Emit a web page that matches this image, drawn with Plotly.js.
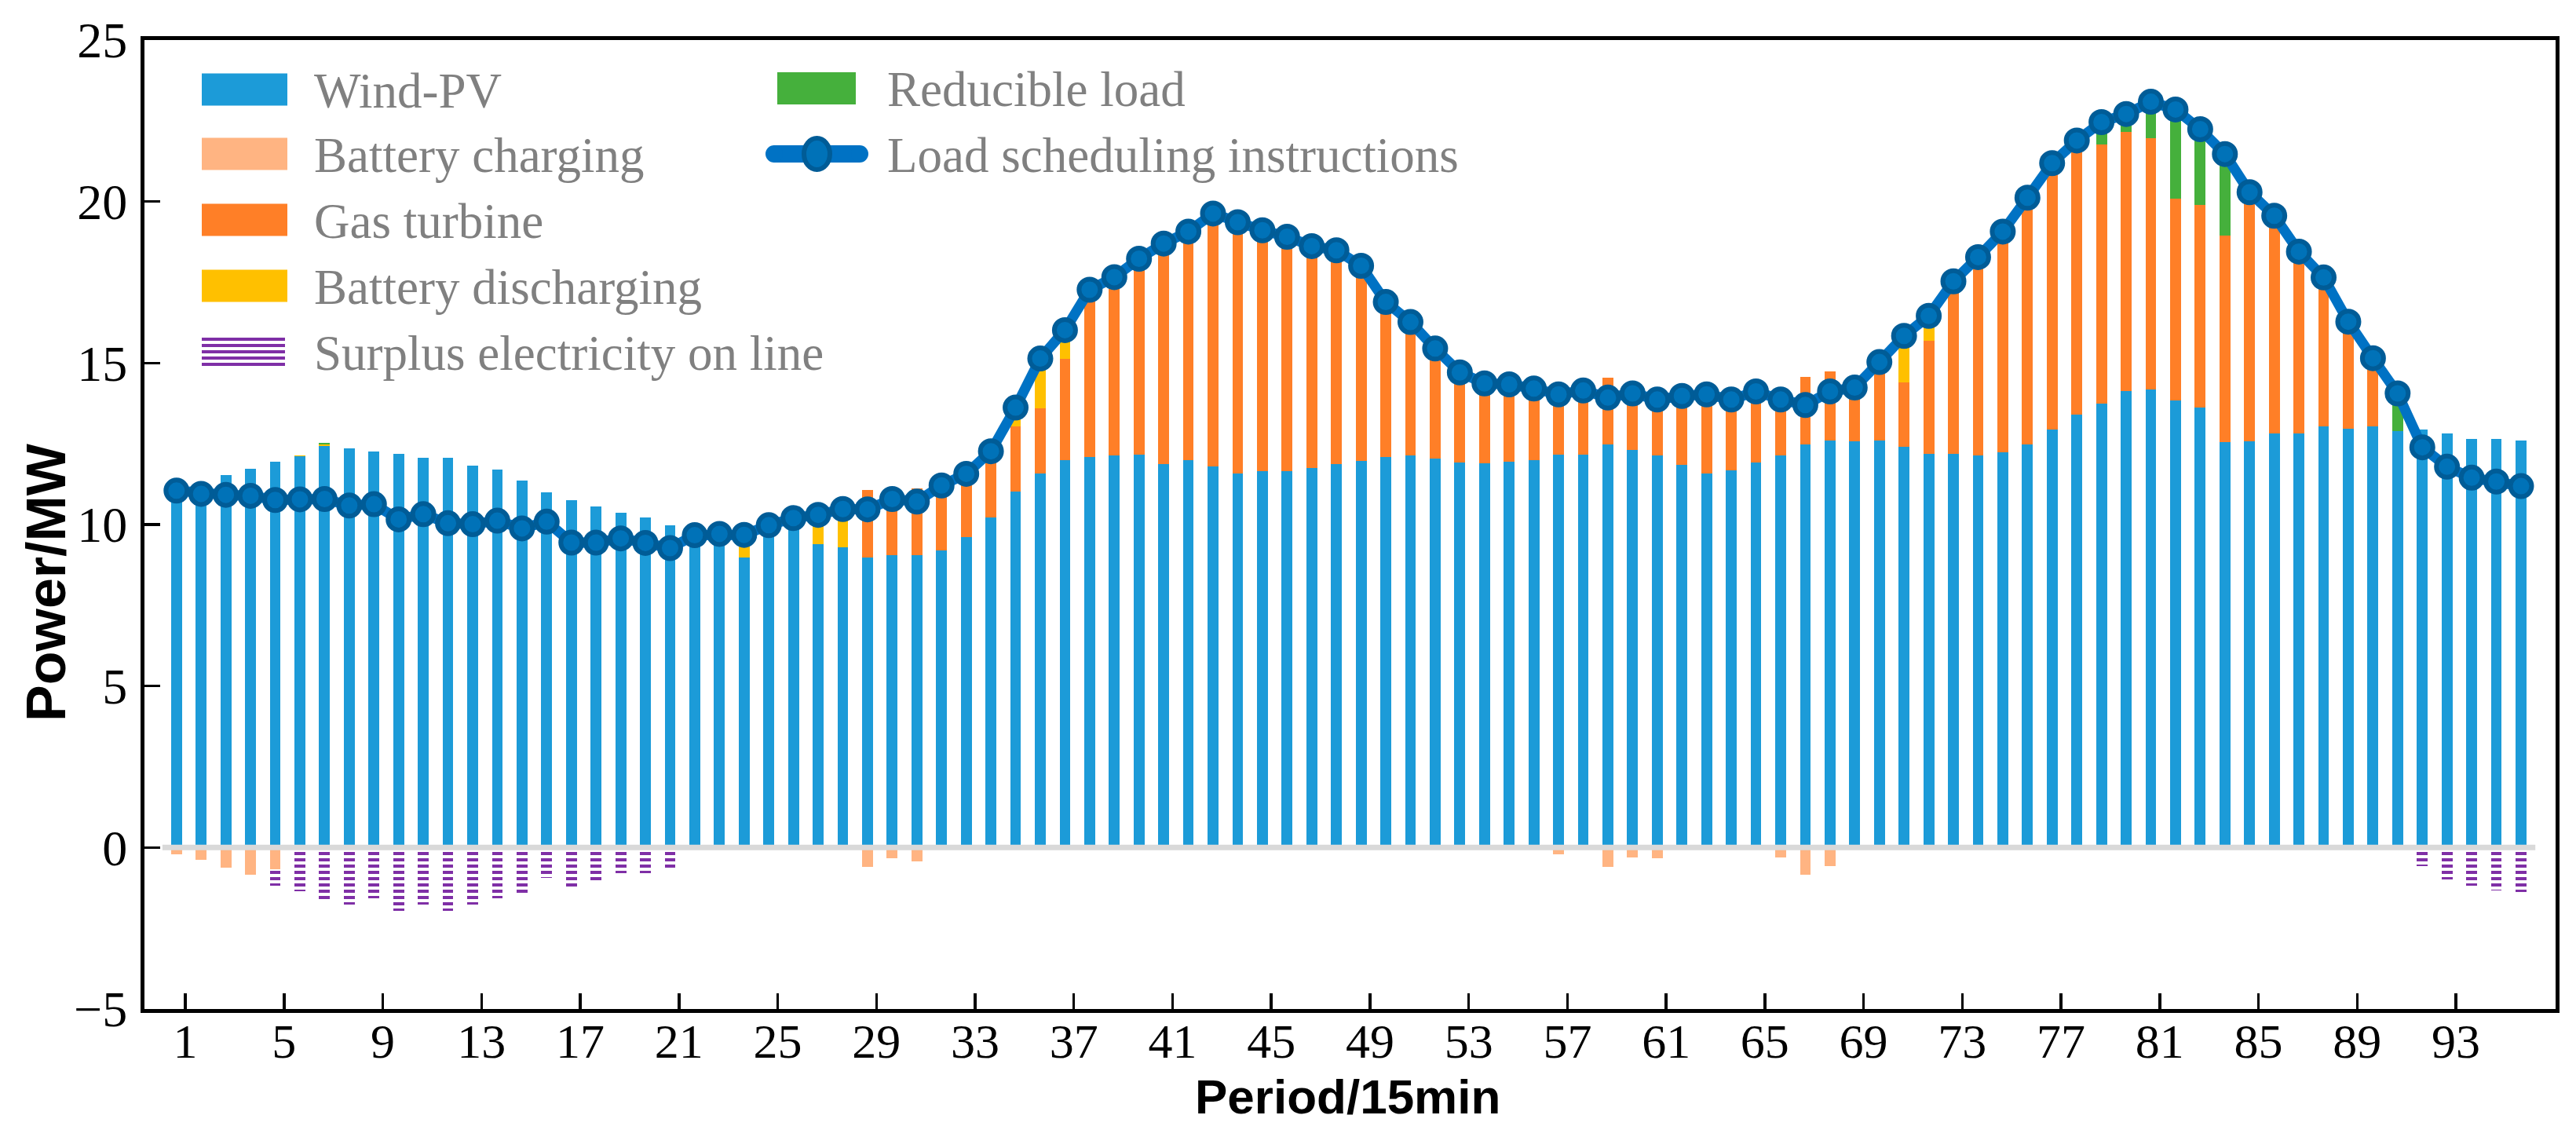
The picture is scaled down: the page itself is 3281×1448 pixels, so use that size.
<!DOCTYPE html>
<html>
<head>
<meta charset="utf-8">
<script src="https://cdn.plot.ly/plotly-3.0.1.min.js"></script>
<style>html,body{margin:0;padding:0;background:#fff;}#chart{width:3281px;height:1448px;}</style>
</head>
<body>
<div id="chart"></div>
<script>
// ---------------- data ----------------
var periods = [];
for (var i = 1; i <= 96; i++) periods.push(i);

var windPV = [11.25,11.32,11.54,11.73,11.95,12.11,12.43,12.37,12.27,12.19,12.07,12.07,11.82,11.69,11.36,11.00,10.76,10.57,10.37,10.22,9.98,9.79,9.71,8.98,9.98,10.20,9.39,9.30,8.99,9.04,9.05,9.21,9.61,10.23,11.01,11.57,11.99,12.10,12.13,12.16,11.86,11.99,11.79,11.58,11.66,11.66,11.74,11.86,11.96,12.08,12.14,12.04,11.93,11.89,11.95,11.99,12.16,12.16,12.47,12.30,12.15,11.84,11.57,11.68,11.93,12.15,12.47,12.61,12.57,12.61,12.40,12.20,12.18,12.15,12.23,12.49,12.93,13.41,13.75,14.13,14.18,13.84,13.62,12.56,12.58,12.82,12.83,13.04,12.97,13.05,12.90,12.94,12.83,12.65,12.65,12.59];

var gasTurbine = [0,0,0,0,0,0,0,0,0,0,0,0,0,0,0,0,0,0,0,0,0,0,0,0,0,0,0,0,2.07,2.09,2.08,2.00,1.96,2.04,2.03,2.02,3.15,5.17,5.53,6.07,6.84,7.08,7.84,7.78,7.45,7.25,6.88,6.63,6.05,4.81,4.13,3.41,2.78,2.48,2.39,2.22,2.09,1.99,2.07,2.07,2.06,2.14,2.46,2.19,2.19,2.03,2.10,2.12,1.67,2.42,2.01,3.49,5.35,6.13,6.84,7.63,8.26,8.48,8.02,8.02,7.77,6.26,6.28,6.38,7.71,6.74,5.62,4.61,3.31,2.10,0,0,0,0,0,0];

var batteryDischarging = [0,0,0,0,0,0.04,0.04,0,0,0,0,0,0,0,0,0,0,0,0,0,0,0,0,0.70,0,0,0.91,1.18,0,0,0,0,0,0,0.58,1.55,0.88,0,0,0,0,0,0,0,0,0,0,0,0,0,0,0,0,0,0,0,0,0,0,0,0,0,0,0,0,0,0,0,0,0,1.43,0.77,0,0,0,0,0,0,0,0,0,0,0,0,0,0,0,0,0,0,0,0,0,0,0,0];

var reducibleLoad = [0,0,0,0,0,0,0.05,0,0,0,0,0,0,0,0,0,0,0,0,0,0,0,0,0,0,0,0,0,0,0,0,0,0,0,0,0,0,0,0,0,0,0,0,0,0,0,0,0,0,0,0,0,0,0,0,0,0,0,0,0,0,0,0,0,0,0,0,0,0,0,0,0,0,0,0,0,0,0,0.69,0.56,1.14,2.75,2.34,2.53,0,0,0,0,0,0,1.16,0,0,0,0,0];

var batteryCharging = [-0.20,-0.37,-0.62,-0.84,-0.67,0,0,0,0,0,0,0,0,0,0,0,0,0,0,0,0,0,0,0,0,0,0,0,-0.59,-0.34,-0.42,0,0,0,0,0,0,0,0,0,0,0,0,0,0,0,0,0,0,0,0,0,0,0,0,0,-0.22,0,-0.61,-0.31,-0.34,0,0,0,0,-0.30,-0.84,-0.58,0,0,0,0,0,0,0,0,0,0,0,0,0,0,0,0,0,0,0,0,0,0,0,0,0,0,0,0];

var surplusOnLine = [0,0,0,0,-0.51,-1.36,-1.70,-1.76,-1.57,-1.97,-1.76,-1.97,-1.76,-1.57,-1.51,-0.93,-1.30,-1.10,-0.79,-0.79,-0.71,-0.12,0,0,0,0,0,0,0,0,0,0,0,0,0,0,0,0,0,0,0,0,0,0,0,0,0,0,0,0,0,0,0,0,0,0,0,0,0,0,0,0,0,0,0,0,0,0,0,0,0,0,0,0,0,0,0,0,0,0,0,0,0,0,0,0,0,0,0,0,0,-0.58,-0.98,-1.19,-1.33,-1.38];

var loadInstructions = [11.05,10.95,10.92,10.89,10.76,10.78,10.79,10.59,10.63,10.16,10.32,10.04,10.01,10.12,9.88,10.09,9.44,9.44,9.57,9.43,9.27,9.67,9.71,9.68,9.98,10.20,10.30,10.48,10.47,10.79,10.71,11.21,11.57,12.27,13.62,15.14,16.02,17.27,17.66,18.23,18.70,19.07,19.63,19.36,19.11,18.91,18.62,18.49,18.01,16.89,16.27,15.45,14.71,14.37,14.34,14.21,14.03,14.15,13.93,14.06,13.87,13.98,14.03,13.87,14.12,13.87,13.70,14.12,14.24,15.03,15.84,16.46,17.53,18.28,19.07,20.12,21.19,21.89,22.46,22.71,23.09,22.85,22.24,21.47,20.29,19.56,18.45,17.65,16.28,15.15,14.06,12.39,11.79,11.45,11.33,11.19];

var xTickLabels = [1,5,9,13,17,21,25,29,33,37,41,45,49,53,57,61,65,69,73,77,81,85,89,93];
var yTickValues = [-5,0,5,10,15,20,25];

var seriesNames = ['Wind-PV','Battery charging','Gas turbine','Battery discharging','Surplus electricity on line','Reducible load','Load scheduling instructions'];
var xTitle = 'Period/15min';
var yTitle = 'Power/MW';

// ---------------- style ----------------
var C = {
  wind:'#1C9BD8', charge:'#FFB482', gas:'#FF7F27', dis:'#FFC000',
  surplus:'#7F2FA6', red:'#45B03C', line:'#0072C4', mfill:'#0072B8', mline:'#005C97'
};
var SERIF = 'Liberation Serif';
var SANS = 'Liberation Sans';
var BW = 0.44;

function bar(name, y, color){
  return {type:'bar', name:name, x:periods, y:y, width:BW,
    marker:{color:color, line:{width:0}}, showlegend:false};
}

var traces = [
  bar(seriesNames[0], windPV, C.wind),
  bar(seriesNames[2], gasTurbine, C.gas),
  bar(seriesNames[3], batteryDischarging, C.dis),
  bar(seriesNames[5], reducibleLoad, C.red),
  bar(seriesNames[1], batteryCharging, C.charge),
  {type:'bar', name:seriesNames[4], x:periods, y:surplusOnLine, width:BW, showlegend:false,
   marker:{color:C.surplus, line:{width:0},
     pattern:{shape:'-', fgcolor:C.surplus, bgcolor:'rgba(255,255,255,0)', size:8, solidity:0.5, fillmode:'replace'}}},
  {type:'scatter', mode:'lines+markers', name:seriesNames[6], x:periods, y:loadInstructions, showlegend:false,
   line:{color:C.line, width:13},
   marker:{symbol:'circle', size:27, color:C.mfill, line:{color:C.mline, width:6}}}
];

// ---------------- geometry helpers (plot area in px) ----------------
var L = 184, R = 3255, T = 51, B = 1285;
function px(x){ return (x - L) / (R - L); }
function py(y){ return (B - y) / (B - T); }

var shapes = [
  {type:'line', xref:'x', yref:'y', x0:0.43, x1:96.58, y0:0, y1:0, layer:'above',
   line:{color:'#D9D9D9', width:7}}
];
var annotations = [];

// custom legend, column 1
var col1 = [
  {name:seriesNames[0], color:C.wind, cy:114},
  {name:seriesNames[1], color:C.charge, cy:196},
  {name:seriesNames[2], color:C.gas, cy:280},
  {name:seriesNames[3], color:C.dis, cy:364},
  {name:seriesNames[4], color:C.surplus, cy:448, hatch:true}
];
var LEGFONT = {family:SERIF, size:63, color:'#808080'};
col1.forEach(function(it){
  if (!it.hatch) {
    shapes.push({type:'rect', xref:'paper', yref:'paper', x0:px(257), x1:px(366), y0:py(it.cy-20.5), y1:py(it.cy+20.5),
      fillcolor:it.color, line:{width:0}});
  } else {
    for (var k = 0; k < 5; k++) {
      var yy = it.cy - 16 + k*8;
      shapes.push({type:'line', xref:'paper', yref:'paper', x0:px(257), x1:px(363), y0:py(yy), y1:py(yy),
        line:{color:it.color, width:4}});
    }
  }
  annotations.push({xref:'paper', yref:'paper', x:px(398), y:py(it.cy + 2), xanchor:'left', yanchor:'middle',
    text:it.name, showarrow:false, font:LEGFONT});
});
// column 2
shapes.push({type:'rect', xref:'paper', yref:'paper', x0:px(990), x1:px(1090), y0:py(92), y1:py(133),
  fillcolor:C.red, line:{width:0}});
annotations.push({xref:'paper', yref:'paper', x:px(1128), y:py(114), xanchor:'left', yanchor:'middle',
  text:seriesNames[5], showarrow:false, font:LEGFONT});
shapes.push({type:'line', xref:'paper', yref:'paper', x0:px(985), x1:px(1095), y0:py(196), y1:py(196),
  line:{color:C.line, width:22}});
shapes.push({type:'circle', xref:'paper', yref:'paper', x0:px(975), x1:px(997), y0:py(185), y1:py(207),
  fillcolor:C.line, line:{width:0}});
shapes.push({type:'circle', xref:'paper', yref:'paper', x0:px(1084), x1:px(1106), y0:py(185), y1:py(207),
  fillcolor:C.line, line:{width:0}});
shapes.push({type:'circle', xref:'paper', yref:'paper', x0:px(1024), x1:px(1057), y0:py(176), y1:py(216),
  fillcolor:C.mfill, line:{color:C.mline, width:6}});
annotations.push({xref:'paper', yref:'paper', x:px(1128), y:py(198), xanchor:'left', yanchor:'middle',
  text:seriesNames[6], showarrow:false, font:LEGFONT});

// axis titles
annotations.push({xref:'paper', yref:'paper', x:px(59), y:py(742), xanchor:'center', yanchor:'middle',
  textangle:-90, text:'<b>' + yTitle + '</b>', showarrow:false, font:{family:SANS, size:70, color:'#000'}});
annotations.push({xref:'paper', yref:'paper', x:px(1716), y:py(1396), xanchor:'center', yanchor:'middle',
  text:'<b>' + xTitle + '</b>', showarrow:false, font:{family:SANS, size:62, color:'#000'}});

var layout = {
  width:3281, height:1448,
  margin:{l:L, r:3281-R, t:T, b:1448-B, pad:0},
  paper_bgcolor:'#ffffff', plot_bgcolor:'#ffffff',
  barmode:'relative', bargap:0,
  showlegend:false,
  font:{family:SERIF, color:'#000'},
  xaxis:{
    range:[-0.298, 97.40], autorange:false,
    tickmode:'array', tickvals:xTickLabels.map(function(v){return v + 0.36;}), ticktext:xTickLabels.map(String),
    ticks:'inside', ticklen:20, tickwidth:3.5, tickcolor:'#000',
    showline:true, linewidth:5, linecolor:'#000', mirror:true,
    showgrid:false, zeroline:false,
    tickfont:{family:SERIF, size:62, color:'#000'}, ticklabelstandoff:-17
  },
  yaxis:{
    range:[-5, 25], autorange:false,
    tickmode:'array', tickvals:yTickValues,
    ticks:'inside', ticklen:20, tickwidth:3.5, tickcolor:'#000',
    showline:true, linewidth:5, linecolor:'#000', mirror:true,
    showgrid:false, zeroline:false,
    tickfont:{family:SERIF, size:64, color:'#000'}, ticklabelstandoff:4
  },
  shapes:shapes,
  annotations:annotations
};

Plotly.newPlot('chart', traces, layout, {staticPlot:true, displayModeBar:false});
</script>
</body>
</html>
